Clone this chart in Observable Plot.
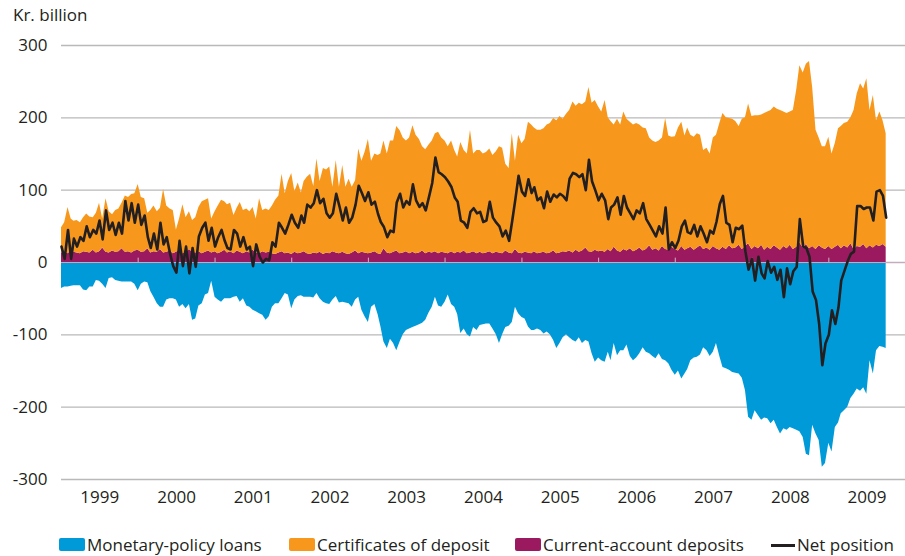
<!DOCTYPE html>
<html>
<head>
<meta charset="utf-8">
<script src="https://cdn.jsdelivr.net/npm/d3@7"></script>
<script src="https://cdn.jsdelivr.net/npm/@observablehq/plot@0.6"></script>
<style>
  html, body { margin: 0; padding: 0; background: #fff; }
  body { width: 905px; height: 556px; overflow: hidden; font-family: "Open Sans", sans-serif; color: #231f20; }
  #title { height: 30px; line-height: 30px; font-size: 17px; padding-left: 13px; }
  #chart svg { display: block; }
  #legend { position: relative; height: 37px; font-size: 17px; }
  #legend .sw { position: absolute; top: 19px; width: 26px; height: 13px; border-radius: 2px; }
  #legend .ln { position: absolute; top: 25px; width: 24px; height: 3px; background: #231f20; }
  #legend .tx { position: absolute; top: 17px; line-height: 17px; white-space: nowrap; }
</style>
</head>
<body>
<div id="title">Kr. billion</div>
<div id="chart"></div>
<div id="legend"></div>
<script>
// Semi-monthly readings (1st and 16th of each month), January 1999 – October 2009, kr. billion
const startYear = 1999;
const years = [1999, 2000, 2001, 2002, 2003, 2004, 2005, 2006, 2007, 2008, 2009];
const yTicks = [-300, -200, -100, 0, 100, 200, 300];
const seriesNames = ["Monetary-policy loans", "Certificates of deposit", "Current-account deposits", "Net position"];

const currentAccount = [
  13,15,12,16,14,13,12,15,14,13,17,13,15,20,14,13,16,14,15,19,14,15,13,16,
  17,14,15,19,13,15,14,18,13,14,16,12,14,17,12,13,18,14,13,15,12,14,16,13,
  15,12,14,17,13,15,12,16,14,12,15,13,17,13,12,15,13,14,12,11,13,15,12,13,
  11,14,12,13,15,12,11,13,12,14,11,13,12,15,13,12,14,12,11,13,16,12,14,13,
  12,13,15,12,11,19,13,12,14,16,12,13,15,12,14,12,13,16,12,14,13,15,12,14,
  13,12,15,12,14,13,16,12,13,15,12,14,12,13,15,12,14,13,12,16,13,12,18,13,
  12,14,13,12,15,12,13,14,12,13,16,12,13,15,14,16,13,17,14,16,20,15,14,17,
  15,16,14,18,15,21,16,14,18,16,19,15,17,20,16,18,23,17,19,16,22,18,17,21,
  18,16,22,17,19,21,17,20,23,18,20,17,22,19,17,21,18,23,19,20,24,18,22,26,
  18,22,19,24,17,21,18,23,20,17,22,19,24,18,21,27,20,25,19,22,18,23,20,18,
  22,18,21,24,19,23,20,26,18,22,21,25,19,23,20,24,22,25,21
];

const certificates = [
  35,40,64,44,43,45,43,47,53,50,45,55,67,40,74,57,50,58,59,63,78,75,81,79,
  91,76,73,49,59,63,56,57,88,64,58,60,31,43,68,49,52,44,49,61,72,72,72,47,
  55,66,72,67,67,67,53,59,69,60,59,57,59,47,76,57,61,58,66,75,79,107,83,99,
  112,84,98,83,97,106,111,92,131,98,119,115,120,89,128,92,120,92,104,91,97,145,126,139,
  158,127,135,136,139,149,137,156,154,172,170,159,153,160,175,164,157,144,144,148,155,163,168,158,
  155,148,153,143,132,153,139,138,170,135,143,141,138,139,142,136,139,147,146,120,117,166,122,163,
  152,156,181,178,171,171,170,171,178,179,183,184,189,183,191,194,209,199,206,202,202,227,206,207,
  200,192,210,182,180,169,182,176,190,182,175,175,175,170,170,167,149,151,147,152,150,181,158,152,
  156,170,172,158,167,155,156,158,153,137,138,133,150,157,175,185,182,176,179,175,164,180,178,193,
  184,181,184,180,189,187,192,192,192,193,186,187,184,192,217,245,242,249,259,220,165,149,140,142,
  151,132,144,161,169,169,174,174,192,211,226,215,235,187,211,172,186,171,157
];

const loans = [
  -36,-34,-34,-33,-32,-32,-32,-38,-39,-34,-34,-25,-26,-30,-36,-22,-21,-25,-26,-27,-27,-27,-27,-30,
  -39,-30,-27,-28,-40,-48,-57,-62,-62,-52,-50,-50,-52,-62,-58,-64,-58,-80,-78,-60,-57,-45,-43,-26,
  -48,-52,-55,-50,-50,-50,-48,-47,-55,-50,-60,-62,-66,-68,-71,-73,-80,-75,-62,-57,-57,-50,-43,-45,
  -64,-52,-47,-46,-48,-48,-48,-49,-43,-50,-55,-57,-58,-52,-47,-56,-55,-56,-57,-62,-52,-48,-66,-75,
  -83,-62,-58,-72,-88,-110,-119,-106,-112,-122,-110,-100,-94,-92,-90,-88,-86,-84,-80,-70,-62,-48,-60,-62,
  -55,-45,-58,-62,-72,-98,-92,-100,-103,-90,-94,-87,-86,-85,-85,-92,-100,-112,-100,-90,-88,-83,-62,-71,
  -76,-78,-89,-94,-94,-92,-94,-99,-96,-100,-108,-119,-112,-104,-100,-104,-108,-110,-104,-112,-108,-110,-126,-138,
  -132,-136,-138,-124,-136,-112,-129,-122,-122,-114,-130,-136,-132,-126,-118,-124,-126,-130,-133,-126,-134,-136,-140,-149,
  -156,-150,-161,-154,-148,-136,-132,-131,-128,-118,-122,-130,-124,-112,-130,-145,-147,-149,-152,-153,-154,-160,-177,-214,
  -218,-205,-212,-218,-215,-216,-223,-218,-228,-237,-230,-232,-228,-230,-232,-234,-242,-265,-267,-225,-237,-246,-283,-278,
  -250,-262,-228,-222,-209,-205,-200,-188,-182,-175,-178,-173,-182,-136,-154,-122,-116,-117,-119
];

const netPosition = [
  22,5,45,5,33,22,35,30,50,35,45,40,58,32,72,45,55,38,55,40,85,58,82,55,
  80,52,65,35,20,40,18,55,25,35,12,-5,-14,30,-5,22,-15,20,-6,36,48,55,30,48,
  22,35,45,30,20,18,45,40,22,35,18,22,-5,25,8,0,5,3,28,22,55,48,40,52,
  66,55,48,65,55,80,76,82,100,82,88,68,62,68,95,78,58,76,55,62,80,106,96,85,
  97,80,84,67,56,49,35,44,42,83,95,76,85,80,108,86,77,82,72,90,110,145,125,122,
  118,112,104,90,84,58,55,48,70,75,68,70,56,58,84,62,55,50,36,44,30,58,88,120,
  98,92,115,96,104,86,90,75,98,84,94,90,95,92,86,116,124,122,118,122,100,142,112,100,
  86,95,86,60,76,80,90,66,92,76,68,60,72,68,82,60,52,44,36,50,40,76,18,28,
  20,30,50,58,42,40,52,36,50,40,28,44,40,56,81,92,55,52,28,48,46,51,15,-10,
  5,-25,8,-15,-22,2,-14,-6,-24,-10,-48,-8,-30,-12,-6,60,22,20,8,-40,-52,-85,-142,-112,
  -100,-66,-85,-62,-25,-12,2,12,15,78,78,74,76,76,58,98,100,92,62
];

const colors = ["#009ad9", "#f7981d", "#9b1a5f", "#231f20"];

// semi-monthly observation dates
const dates = loans.map((_, k) => new Date(Date.UTC(startYear, Math.floor(k / 2), k % 2 ? 16 : 1)));

const stacked = dates.flatMap((d, i) => [
  {date: d, series: seriesNames[2], value: currentAccount[i]},
  {date: d, series: seriesNames[1], value: certificates[i]},
  {date: d, series: seriesNames[0], value: loans[i]}
]);
const net = dates.map((d, i) => ({date: d, value: netPosition[i]}));

const yearStarts = years.map(y => new Date(Date.UTC(y, 0, 1)));
const yearMids = years.map(y => new Date(Date.UTC(y, 6, 2)));

const chart = Plot.plot({
  width: 905,
  height: 489,
  marginTop: 15,
  marginBottom: 40,
  marginLeft: 61,
  marginRight: 0,
  style: {fontFamily: "'Open Sans', sans-serif", fontSize: "17px", color: "#231f20", background: "#fff"},
  x: {type: "utc", label: null, domain: [new Date(Date.UTC(startYear, 0, 1)), new Date(Date.UTC(years[years.length - 1] + 1, 0, 1))]},
  y: {label: null, domain: [-300, 300]},
  color: {domain: seriesNames.slice(0, 3), range: colors.slice(0, 3)},
  marks: [
    Plot.gridY(yTicks, {stroke: "#b9b9b9", strokeOpacity: 1, strokeWidth: 1.3}),
    Plot.areaY(stacked, Plot.stackY({
      x: "date", y: "value", z: "series", fill: "series",
      order: [seriesNames[2], seriesNames[1], seriesNames[0]]
    })),
    Plot.ruleY([0], {stroke: "#c8a9bf", strokeWidth: 1}),
    Plot.ruleX(yearStarts.slice(1), {y1: 0, y2: 6, stroke: "#c9b6c4", strokeWidth: 1}),
    Plot.lineY(net, {x: "date", y: "value", stroke: colors[3], strokeWidth: 2.6, strokeLinejoin: "round"}),
    Plot.axisY(yTicks, {label: null, tickSize: 0, tickPadding: 14, tickFormat: d => String(d), fontSize: 17}),
    Plot.axisX(yearMids, {label: null, tickSize: 0, tickPadding: 11, tickFormat: d => String(d.getUTCFullYear()), fontSize: 17})
  ]
});
document.getElementById("chart").appendChild(chart);

// legend
const legend = document.getElementById("legend");
const items = [
  {name: seriesNames[0], color: colors[0], left: 59, kind: "sw"},
  {name: seriesNames[1], color: colors[1], left: 289, kind: "sw"},
  {name: seriesNames[2], color: colors[2], left: 515, kind: "sw"},
  {name: seriesNames[3], color: colors[3], left: 771, kind: "ln"}
];
for (const it of items) {
  const s = document.createElement("div");
  s.className = it.kind;
  s.style.left = it.left + "px";
  s.style.background = it.color;
  legend.appendChild(s);
  const t = document.createElement("div");
  t.className = "tx";
  t.style.left = (it.left + (it.kind === "sw" ? 28 : 26)) + "px";
  t.textContent = it.name;
  legend.appendChild(t);
}
</script>
</body>
</html>
